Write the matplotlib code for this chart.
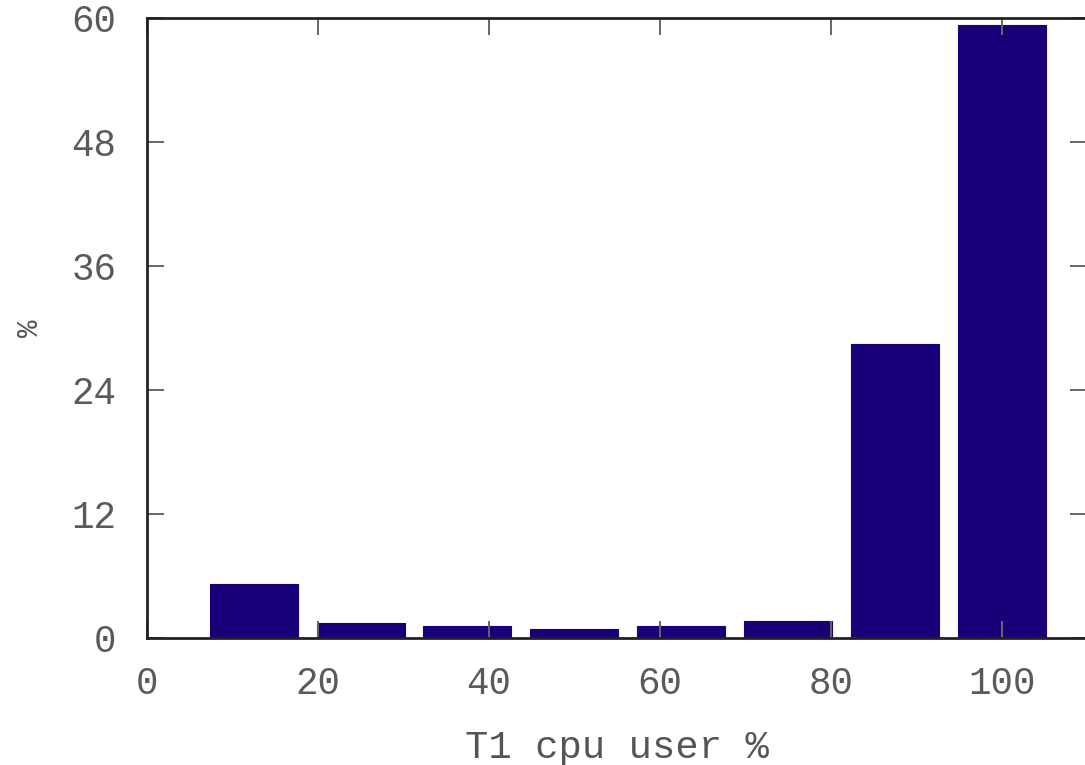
import matplotlib
matplotlib.use("Agg")
import matplotlib.pyplot as plt

# histogram of T1 cpu user % (bin centers) and share of samples (%)
bin_centers = [12.5, 25, 37.5, 50, 62.5, 75, 87.5, 100]
share_pct = [5.2, 1.42, 1.2, 0.87, 1.2, 1.65, 28.45, 59.3]
x_ticks = [0, 20, 40, 60, 80, 100]
y_ticks = [0, 12, 24, 36, 48, 60]

plt.rcParams['font.family'] = ['Liberation Mono', 'DejaVu Sans Mono']

fig = plt.figure(figsize=(10.85, 7.65), dpi=100)
ax = fig.add_axes([0.1355, 0.166, 0.8664, 0.8105])

ax.bar(bin_centers, share_pct, width=10.3, color='#1a0078', edgecolor='#1a0078', linewidth=0.8)

ax.set_xlim(0, 110)
ax.set_ylim(0, 60)
ax.set_xticks(x_ticks)
ax.set_yticks(y_ticks)

for side in ax.spines.values():
    side.set_linewidth(2)
    side.set_color('#222222')

ax.tick_params(axis='both', direction='in', length=12, width=1.4, color='#666666',
               labelsize=27, labelcolor='#5a5a5a', top=True, right=True)
ax.tick_params(axis='y', pad=22)
ax.tick_params(axis='x', pad=20)

ax.set_xlabel('T1 cpu user %', fontsize=28, color='#555555')
ax.xaxis.set_label_coords(0.5, -0.148)
ax.set_ylabel('%', fontsize=21, color='#555555')
ax.yaxis.set_label_coords(-0.11, 0.5)

fig.savefig('out.png', dpi=100)
